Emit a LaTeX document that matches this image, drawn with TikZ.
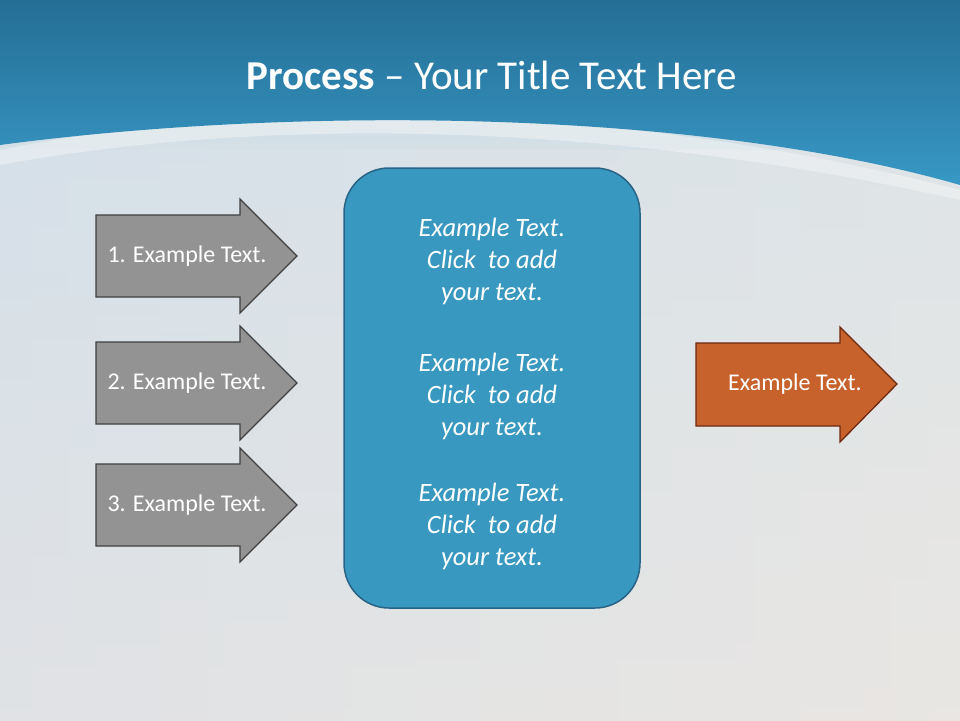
\documentclass[tikz,border=0pt]{standalone}
\usepackage{fontspec}
\setmainfont{Carlito}
\usetikzlibrary{shapes.arrows}
\begin{document}
\begin{tikzpicture}[x=1pt,y=-1pt,
  grayarrow/.style={fill=gray!85!white,draw=black!75,line width=1.3pt},
  orangearrow/.style={fill={rgb,255:red,200;green,98;blue,44},draw={rgb,255:red,110;green,40;blue,15},line width=1.3pt},
  arrowtext/.style={text=white,font=\fontsize{24}{28}\selectfont},
  boxtext/.style={text=white,font=\fontsize{26.5}{32}\selectfont\itshape,align=center}]
\useasboundingbox (0,0) rectangle (960,720);
\shade[top color={rgb,255:red,205;green,222;blue,232},bottom color={rgb,255:red,238;green,228;blue,220}] (0,0) rectangle (960,720);
\shade[left color={rgb,255:red,215;green,225;blue,235},right color={rgb,255:red,230;green,232;blue,232},opacity=0.6] (0,150) rectangle (960,720);
\fill[white,opacity=0.35] (0,150) .. controls (300,90) and (650,110) .. (960,190) -- (960,200) .. controls (650,130) and (300,110) .. (0,165) -- cycle;
\shade[top color={rgb,255:red,36;green,110;blue,150},bottom color={rgb,255:red,56;green,152;blue,196}] (0,0) -- (960,0) -- (960,185) .. controls (700,110) and (300,105) .. (0,145) -- cycle;
\node[text=white,font=\fontsize{41}{48}\selectfont] (title) at (492,75) {\textbf{Process} -- Your Title Text Here};
% gray arrows
\foreach \n/\c in {1/256,2/383,3/505}{
  \draw[grayarrow] (96,\c-41) -- (240,\c-41) -- (240,\c-57) -- (297,\c) -- (240,\c+57) -- (240,\c+41) -- (96,\c+41) -- cycle;
  \node[arrowtext] (a\n) at (187,\c) {\n. Example Text.};
}
% box
\draw[fill={rgb,255:red,56;green,152;blue,192},draw={rgb,255:red,40;green,100;blue,135},line width=1.5pt,rounded corners=45pt] (344,168) rectangle (640,608);
\node[boxtext] (t1) at (492,261) {Example Text.\\Click\ \ to add\\your text.};
\node[boxtext] (t2) at (492,396) {Example Text.\\Click\ \ to add\\your text.};
\node[boxtext] (t3) at (492,526) {Example Text.\\Click\ \ to add\\your text.};
% orange arrow
\draw[orangearrow] (696,343) -- (840,343) -- (840,327) -- (897,384) -- (840,442) -- (840,426) -- (696,426) -- cycle;
\node[arrowtext] (o) at (795,384) {Example Text.};
\end{tikzpicture}
\end{document}
